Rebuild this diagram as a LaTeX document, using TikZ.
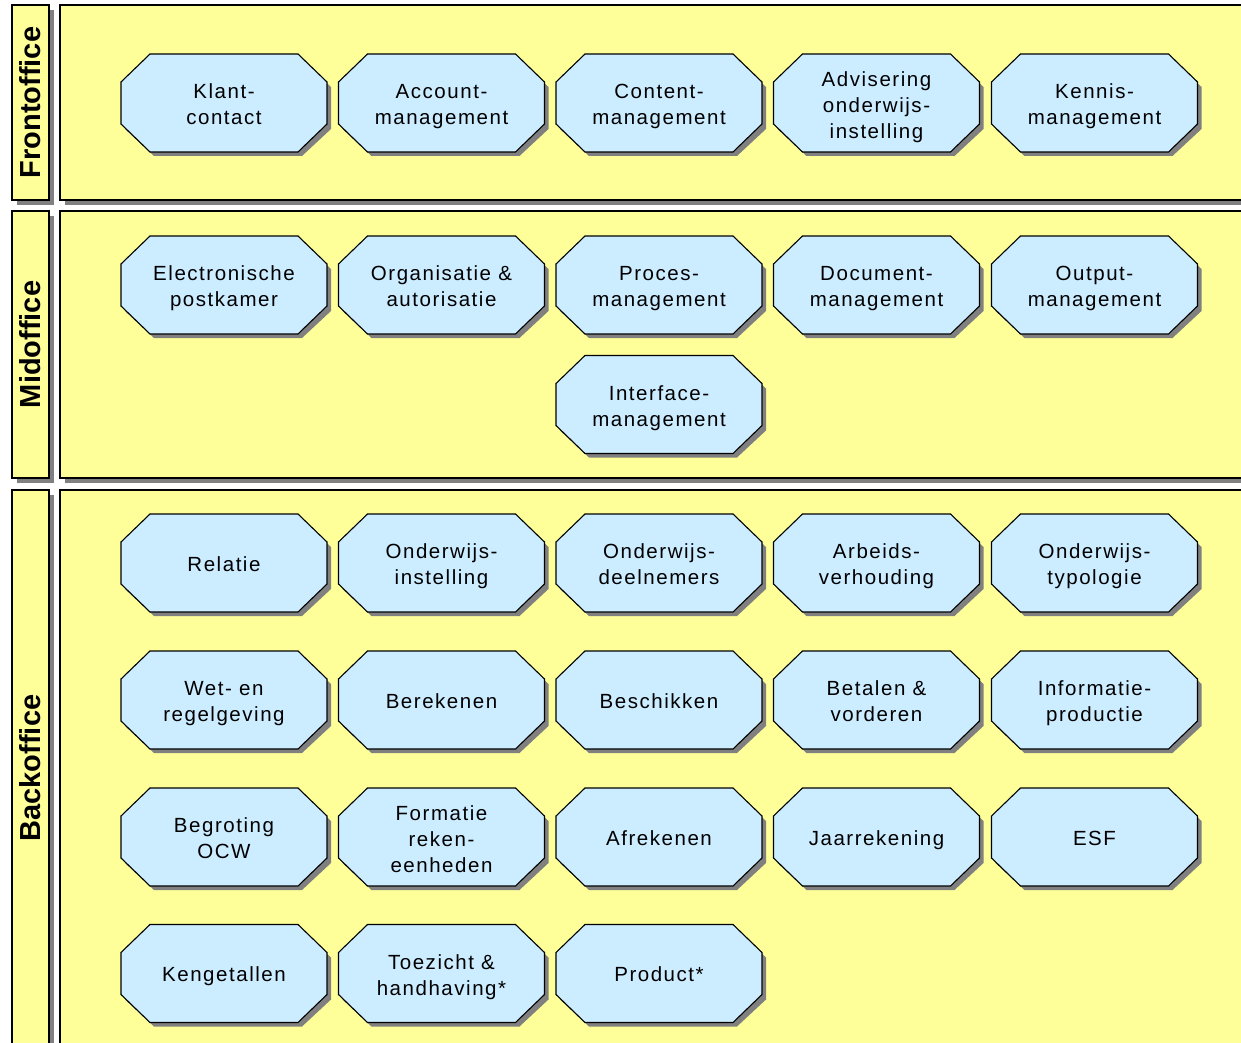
\documentclass[tikz,border=0pt]{standalone}
\usepackage{fontspec}
\setmainfont{Liberation Sans}
\newfontfamily\nodefont[LetterSpace=7.5]{Liberation Sans}
\definecolor{bandyellow}{RGB}{255,255,153}
\definecolor{octblue}{RGB}{204,236,255}
\definecolor{shadgrey}{RGB}{128,128,128}
\tikzset{
  bandbox/.style={fill=bandyellow, draw=black, line width=1.2pt},
  bandshadow/.style={fill=shadgrey},
  bandlabel/.style={rotate=90, font=\bfseries\fontsize{29}{32}\selectfont, inner sep=0pt},
  octbox/.style={fill=octblue, draw=black, line width=1.1pt, line join=miter},
  octshadow/.style={fill=shadgrey},
  octtext/.style={font=\nodefont\fontsize{20.5}{26}\selectfont, align=center, inner sep=0pt, text=black,
    execute at begin node=\strut, execute at end node=\strut}
}
\newcommand\Band[4]{% name, ytop, ybot, label
  \fill[bandshadow] (17,-#2-5) rectangle (54,-#3-5);
  \filldraw[bandbox] (12,-#2) rectangle (49,-#3);
  \fill[bandshadow] (65,-#2-5) rectangle (1270,-#3-5);
  \filldraw[bandbox] (60,-#2) rectangle (1270,-#3);
  \node[bandlabel] (#1) at (30.5,{-(#2+#3)/2}) {#4};
}
\newcommand\Oct[5][-3]{% [text offset], name, cx, cy(px), text
  \begin{scope}[shift={(#3,-#4)}]
    \fill[octshadow] (-70,44) -- (78,44) -- (107,16) -- (107,-26) -- (78,-53) -- (-70,-53) -- (-99,-26) -- (-99,16) -- cycle;
    \filldraw[octbox] (-74,49) -- (74,49) -- (103,21) -- (103,-21) -- (74,-49) -- (-74,-49) -- (-103,-21) -- (-103,21) -- cycle;
    \node[octtext] (#2) at (0,#1) {#5};
  \end{scope}
}
\begin{document}
\begin{tikzpicture}[x=1pt,y=1pt]
\useasboundingbox (0,0) rectangle (1241,-1043);
\clip (0,0) rectangle (1241,-1043);
\fill[white] (0,0) rectangle (1241,-1043);

\Band{front}{5}{200}{Frontoffice}
\Band{mid}{211}{478}{Midoffice}
\Band{back}{490}{1046}{Backoffice}

% Frontoffice
\Oct[-5]{klant}{224}{103}{Klant-\\contact}
\Oct[-5]{account}{441.5}{103}{Account-\\management}
\Oct[-5]{content}{659}{103}{Content-\\management}
\Oct[-5.5]{advisering}{876.5}{103}{Advisering\\onderwijs-\\instelling}
\Oct[-5]{kennis}{1094.5}{103}{Kennis-\\management}

% Midoffice
\Oct[-5]{postkamer}{224}{285}{Electronische\\postkamer}
\Oct[-5]{organisatie}{441.5}{285}{Organisatie \&\\autorisatie}
\Oct[-5]{proces}{659}{285}{Proces-\\management}
\Oct[-5]{document}{876.5}{285}{Document-\\management}
\Oct[-5]{output}{1094.5}{285}{Output-\\management}
\Oct[-5]{interface}{659}{404.5}{Interface-\\management}

% Backoffice
\Oct{relatie}{224}{563}{Relatie}
\Oct[-5]{instelling}{441.5}{563}{Onderwijs-\\instelling}
\Oct[-5]{deelnemers}{659}{563}{Onderwijs-\\deelnemers}
\Oct[-5]{arbeid}{876.5}{563}{Arbeids-\\verhouding}
\Oct[-5]{typologie}{1094.5}{563}{Onderwijs-\\typologie}

\Oct[-5]{wet}{224}{700}{Wet- en\\regelgeving}
\Oct{berekenen}{441.5}{700}{Berekenen}
\Oct{beschikken}{659}{700}{Beschikken}
\Oct[-5]{betalen}{876.5}{700}{Betalen \&\\vorderen}
\Oct[-5]{informatie}{1094.5}{700}{Informatie-\\productie}

\Oct[-5]{begroting}{224}{837}{Begroting\\OCW}
\Oct[-5.5]{formatie}{441.5}{837}{Formatie\\reken-\\eenheden}
\Oct{afrekenen}{659}{837}{Afrekenen}
\Oct{jaarrekening}{876.5}{837}{Jaarrekening}
\Oct{esf}{1094.5}{837}{ESF}

\Oct{kengetallen}{224}{973.5}{Kengetallen}
\Oct[-5]{toezicht}{441.5}{973.5}{Toezicht \&\\handhaving*}
\Oct{product}{659}{973.5}{Product*}
\end{tikzpicture}
\end{document}
